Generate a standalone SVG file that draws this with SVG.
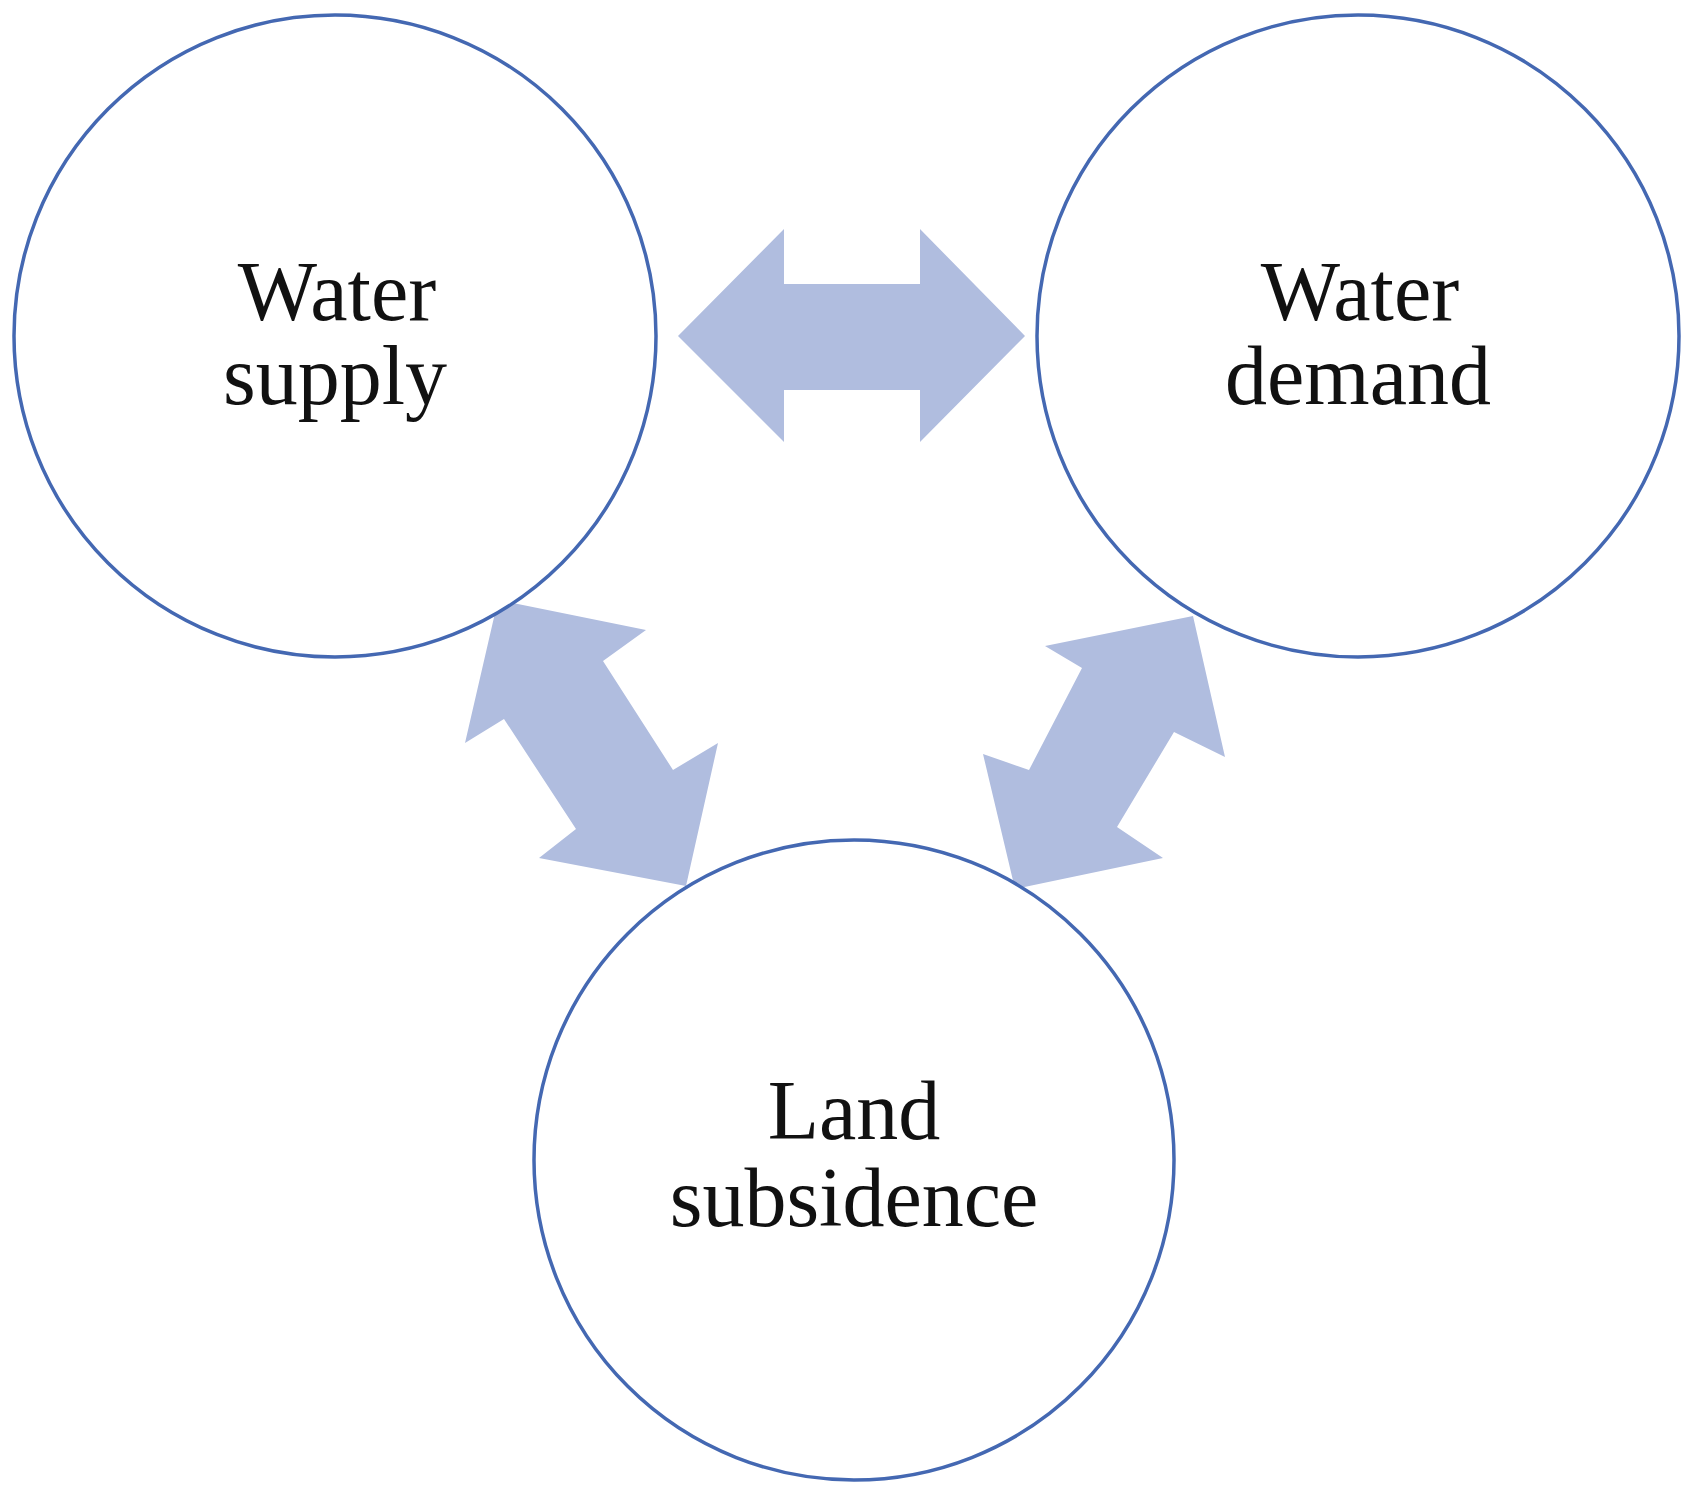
<svg xmlns="http://www.w3.org/2000/svg" width="1689" height="1496" viewBox="0 0 1689 1496">
<style>
.n{fill:#fff;stroke:#4468b2;stroke-width:3.5}
.t{font-family:"Liberation Serif",serif;font-size:84px;fill:#111;text-anchor:middle}
.a{fill:#b0bddf}
</style>
<rect width="1689" height="1496" fill="#fff"/>
<g id="connectors">
<polygon class="a" points="678,336 784,229 784,284 920,284 920,229 1025,336 920,442 920,390 784,390 784,442"/>
<polygon class="a" points="498,600 646,630 603,661 673,770 718,743 686,886 539,858 576,829 504,719 465,743"/>
<polygon class="a" points="1193,616 1225,757 1174,732 1117,827 1163,858 1015,889 983,754 1029,770 1082,668 1045,646"/>
</g>
<g id="supply"><circle class="n" cx="335" cy="336" r="321"/><text class="t" x="337" y="320">Water</text><text class="t" x="335" y="404">supply</text></g>
<g id="demand"><circle class="n" cx="1358" cy="336" r="321"/><text class="t" x="1360" y="320">Water</text><text class="t" x="1358" y="404">demand</text></g>
<g id="subsidence"><circle class="n" cx="854" cy="1160" r="320"/><text class="t" x="854" y="1139">Land</text><text class="t" x="854" y="1226">subsidence</text></g>
</svg>
